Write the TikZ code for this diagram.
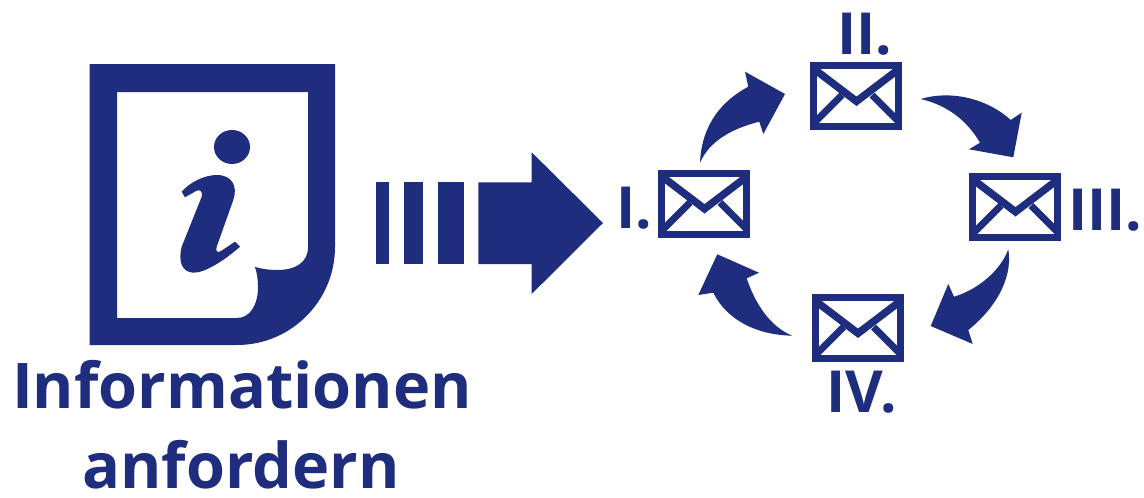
\documentclass[tikz,border=0pt]{standalone}
\usepackage{fontspec}
\setmainfont{Open Sans}
\definecolor{ink}{HTML}{1F2D7E}
\newcommand{\flaplines}[1]{%
  \begin{scope}[shift={(#1.center)},line width=7.5pt,draw=ink]
    \draw[miter limit=10] (-42,-27) -- (0.5,5.3) -- (43,-27);
    \draw[line width=7pt] (-42,27) -- (-14,-1);
    \draw[line width=7pt] (43,26) -- (16,-1);
  \end{scope}}
\tikzset{
  envelope/.style={rectangle,draw=ink,line width=7pt,minimum width=85pt,minimum height=61pt,inner sep=0pt},
  label text/.style={text=ink,inner sep=0pt,anchor=base west,font=\bfseries\fontsize{58}{58}\selectfont},
  big text/.style={text=ink,inner sep=0pt,anchor=base,font=\bfseries\fontsize{63}{63}\selectfont}
}
\begin{document}
\begin{tikzpicture}[x=1pt,y=-1pt]
\useasboundingbox (0,0) rectangle (1144,498);
% information sheet
\fill[ink,even odd rule] (89.5,64) -- (335,64) -- (335,247) .. controls (335,301) and (291,345) .. (237,345) -- (89.5,345) -- cycle
  (117,92) -- (117,318) -- (237,318) .. controls (250,318) and (258,305) .. (258,287) .. controls (258,280) and (257,273) .. (255,267) .. controls (262,269) and (270,270) .. (277,270) .. controls (295,270) and (308,263) .. (308,247) -- (308,92) -- cycle;
\fill[ink] (232,147) ellipse (18 and 17);
\fill[ink] (181.7,191.7) .. controls (190,182) and (205,175) .. (216.7,175) .. controls (232,175) and (238,186) .. (233.3,200)
  -- (216.7,246.7) .. controls (215,252) and (218,253) .. (221,251) -- (235,241.7) -- (240,246.7) .. controls (225,260) and (205,273) .. (193.3,272.7)
  .. controls (182,272) and (178,262) .. (181.7,246.7) -- (201.7,196.7) .. controls (203,191) and (200,189) .. (196,191) -- (185,197.3) -- cycle;
% dashed big arrow
\fill[ink] (375.7,182.3) rectangle (389.3,264);
\fill[ink] (403.7,182.3) rectangle (423.3,264);
\fill[ink] (437.7,182.3) rectangle (463.7,264);
\fill[ink] (478.3,182.3) -- (531.7,182.3) -- (531.7,152.3) -- (603,223) -- (531.7,294) -- (531.7,264) -- (478.3,264) -- cycle;
% envelopes
\node[envelope] (e1) at (704,203.5) {};
\node[envelope] (e2) at (856,96) {};
\node[envelope] (e3) at (1015,206.5) {};
\node[envelope] (e4) at (857.5,328) {};
\flaplines{e1}
\flaplines{e2}
\flaplines{e3}
\flaplines{e4}
% curved arrows
\fill[ink] (700,162.7) .. controls (701.7,123.3) and (723.3,100) .. (748.3,86.7) -- (745,71.7) -- (785,94) -- (763.3,134) -- (759.3,121.7) .. controls (733.3,128.3) and (710,140) .. (700,162.7) -- cycle;
\fill[ink] (920.7,99) .. controls (950,90) and (986.7,98) .. (1010.7,120) -- (1021.7,112.7) -- (1013.3,157.3) -- (969,149.3) -- (980,142.7) .. controls (966.7,120) and (946.7,105) .. (920.7,99) -- cycle;
\fill[ink] (1008.3,249.3) .. controls (1013.3,280) and (993.3,310) .. (968.3,330) -- (972.7,344) -- (930.7,326) -- (948.3,284) -- (954,296.7) .. controls (976.7,290) and (1000,271.7) .. (1008.3,249.3) -- cycle;
\fill[ink] (792.3,335.7) .. controls (756.7,335) and (726.7,320) .. (713.3,292.7) -- (698.3,295) -- (717.3,254.3) -- (759,272.7) -- (746.7,278.3) .. controls (755,303.3) and (770,326.7) .. (792.3,335.7) -- cycle;
% labels
\node[label text] (l1) at (616,228) {I.};
\node[label text] (l2) at (837,54) {II.};
\node[label text] (l3) at (1068,230) {III.};
\node[label text] (l4) at (826,412) {IV.};
\node[big text] (t1) at (242,408) {Informationen};
\node[big text] (t2) at (241,488) {anfordern};
\end{tikzpicture}
\end{document}
